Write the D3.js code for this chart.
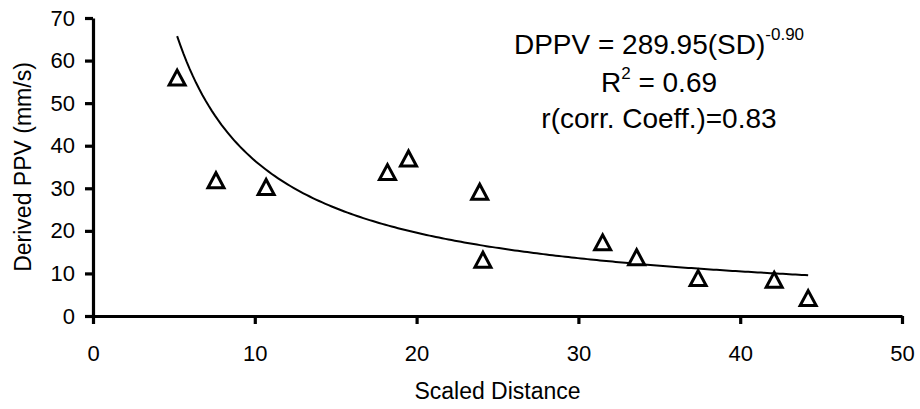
<!DOCTYPE html>
<html>
<head>
<meta charset="utf-8">
<script src="https://cdn.jsdelivr.net/npm/d3@7"></script>
<style>
  body { margin: 0; background: #fff; }
  svg { display: block; font-family: "Liberation Sans", Arial, Helvetica, sans-serif; }
</style>
</head>
<body>
<div id="chart"></div>
<script>
// Datos
const scaledDistance = [5.2, 7.6, 10.7, 18.2, 19.5, 23.9, 24.1, 31.5, 33.6, 37.4, 42.1, 44.2];
const derivedPPV     = [56.0, 31.9, 30.3, 33.8, 37.0, 29.2, 13.2, 17.3, 13.8, 8.9, 8.5, 4.2];
const xTicks = [0, 10, 20, 30, 40, 50];
const yTicks = [0, 10, 20, 30, 40, 50, 60, 70];
// Coeficientes de la línea de tendencia (potencia) mostrados en el gráfico
const trendA = 289.95;
const trendB = -0.90;
const eqLines = ["DPPV = 289.95(SD)", "R", "r(corr. Coeff.)=0.83"];

const W = 920, H = 409;
const margin = {top: 18, right: 18, bottom: 93, left: 93};
const width = W - margin.left - margin.right;
const height = H - margin.top - margin.bottom;

const svg = d3.select("#chart").append("svg")
    .attr("width", W)
    .attr("height", H);

const g = svg.append("g")
    .attr("transform", `translate(${margin.left},${margin.top})`);

const x = d3.scaleLinear().domain([0, 50]).range([0, width]);
const y = d3.scaleLinear().domain([0, 70]).range([height, 0]);

// Ejes
const xAxis = g.append("g")
    .attr("transform", `translate(0,${height})`)
    .call(d3.axisBottom(x).tickValues(xTicks).tickSize(8).tickSizeOuter(0).tickPadding(21));
const yAxis = g.append("g")
    .call(d3.axisLeft(y).tickValues(yTicks).tickSize(8).tickSizeOuter(0).tickPadding(10));

[xAxis, yAxis].forEach(a => {
  a.select(".domain").attr("stroke", "#000").attr("stroke-width", 3.2);
  a.selectAll(".tick line").attr("stroke", "#000").attr("stroke-width", 3.2);
  a.selectAll(".tick text")
    .attr("fill", "#000")
    .style("font-size", "22px")
    .style("font-family", "'Liberation Sans', Arial, sans-serif");
});

// Línea de tendencia
const xExt = d3.extent(scaledDistance);
const curveX = d3.range(0, 201).map(i => xExt[0] + (xExt[1] - xExt[0]) * i / 200);
const line = d3.line()
    .x(d => x(d))
    .y(d => y(trendA * Math.pow(d, trendB)));
g.append("path")
    .datum(curveX)
    .attr("fill", "none")
    .attr("stroke", "#000")
    .attr("stroke-width", 2)
    .attr("d", line);

// Marcadores triangulares
const tw = 16, th = 15;
g.selectAll(".pt")
    .data(scaledDistance.map((d, i) => [d, derivedPPV[i]]))
    .enter()
    .append("path")
    .attr("class", "pt")
    .attr("transform", d => `translate(${x(d[0])},${y(d[1])})`)
    .attr("d", `M0,${-th / 2}L${tw / 2},${th / 2}L${-tw / 2},${th / 2}Z`)
    .attr("fill", "#fff")
    .attr("stroke", "#000")
    .attr("stroke-width", 3);

// Títulos de ejes
svg.append("text")
    .attr("x", margin.left + width / 2)
    .attr("y", 399)
    .attr("text-anchor", "middle")
    .style("font-size", "23px")
    .text("Scaled Distance");

svg.append("text")
    .attr("transform", `translate(31,${margin.top + height / 2}) rotate(-90)`)
    .attr("text-anchor", "middle")
    .style("font-size", "23px")
    .text("Derived PPV (mm/s)");

// Ecuación
const eqX = 659;
const eq1 = svg.append("text")
    .attr("x", eqX).attr("y", 54)
    .attr("text-anchor", "middle")
    .style("font-size", "28px");
eq1.append("tspan").text(eqLines[0]);
eq1.append("tspan").attr("dy", -14).style("font-size", "17px").text("-0.90");

const eq2 = svg.append("text")
    .attr("x", eqX).attr("y", 92)
    .attr("text-anchor", "middle")
    .style("font-size", "28px");
eq2.append("tspan").text(eqLines[1]);
eq2.append("tspan").attr("dy", -13).style("font-size", "17px").text("2");
eq2.append("tspan").attr("dy", 13).text(" = 0.69");

svg.append("text")
    .attr("x", eqX).attr("y", 128)
    .attr("text-anchor", "middle")
    .style("font-size", "28px")
    .text(eqLines[2]);
</script>
</body>
</html>
